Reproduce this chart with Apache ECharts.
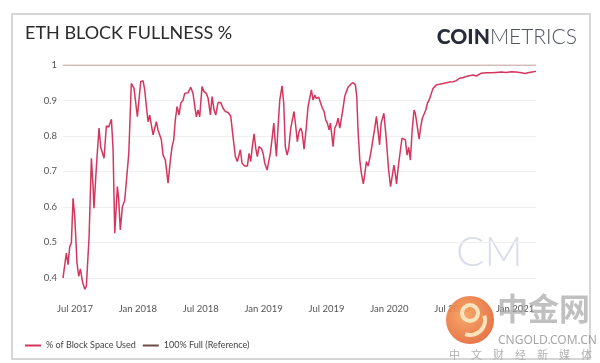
<!DOCTYPE html>
<html>
<head>
<meta charset="utf-8">
<script src="https://cdn.jsdelivr.net/npm/echarts@6/dist/echarts.min.js"></script>
<style>
html,body{margin:0;padding:0;background:#fff;}
#chart{width:600px;height:363px;}
</style>
</head>
<body>
<div id="chart"></div>
<script>
// Months since Jan 2017 (6 = Jul 2017, 48 = Jan 2021)
const months = [4.85,5.17,5.33,5.49,5.65,5.81,5.97,6.19,6.35,6.51,6.70,6.93,7.08,7.34,7.56,7.72,7.81,7.98,8.10,8.29,8.45,8.61,8.77,8.99,9.22,9.47,9.63,9.79,10.04,10.17,10.32,10.52,10.74,10.90,11.13,11.37,11.63,11.79,11.95,12.27,12.49,12.65,12.81,12.97,13.13,13.28,13.45,13.61,13.76,13.92,14.09,14.24,14.40,14.62,14.88,15.10,15.26,15.42,15.57,15.74,15.93,16.09,16.31,16.47,16.79,17.04,17.26,17.48,17.58,17.74,17.90,18.12,18.31,18.53,18.70,18.92,19.08,19.27,19.43,19.65,19.91,20.13,20.35,20.60,20.86,21.08,21.30,21.49,21.63,21.78,21.94,22.20,22.45,22.61,22.77,22.92,23.09,23.25,23.40,23.56,23.78,23.95,24.11,24.33,24.49,24.64,24.83,24.97,25.12,25.22,25.38,25.54,25.76,25.92,26.07,26.24,26.40,26.59,26.71,26.90,27.07,27.22,27.38,27.54,27.67,27.86,28.08,28.24,28.40,28.56,28.72,28.88,29.03,29.26,29.45,29.61,29.77,29.93,30.08,30.25,30.37,30.47,30.63,30.79,30.94,31.11,31.27,31.42,31.58,31.74,31.90,32.06,32.32,32.54,32.76,32.89,33.01,33.18,33.33,33.52,33.65,33.81,33.97,34.13,34.28,34.45,34.61,34.77,35.07,35.22,35.48,35.70,35.93,36.12,36.27,36.44,36.56,36.69,36.82,36.98,37.21,37.40,37.53,37.69,37.85,38.01,38.17,38.36,38.48,38.67,38.84,39.00,39.15,39.31,39.48,39.63,39.86,40.01,40.17,40.34,40.49,40.81,41.13,41.44,41.77,42.08,42.40,42.66,43.04,43.51,43.99,44.31,44.78,45.26,45.42,45.74,46.21,46.69,47.14,47.65,48.10,48.60,48.96,49.24,49.62,50.00];
const fullness = [0.399,0.470,0.437,0.488,0.498,0.624,0.573,0.441,0.404,0.425,0.390,0.368,0.376,0.516,0.737,0.657,0.596,0.685,0.742,0.822,0.768,0.772,0.737,0.828,0.826,0.847,0.761,0.526,0.657,0.620,0.535,0.601,0.618,0.620,0.751,0.948,0.934,0.930,0.854,0.953,0.956,0.930,0.883,0.840,0.859,0.831,0.803,0.798,0.840,0.817,0.817,0.789,0.746,0.732,0.667,0.732,0.770,0.789,0.845,0.883,0.859,0.892,0.901,0.920,0.922,0.937,0.920,0.873,0.854,0.873,0.854,0.939,0.925,0.920,0.906,0.859,0.911,0.873,0.859,0.894,0.894,0.878,0.869,0.866,0.856,0.798,0.742,0.728,0.732,0.761,0.723,0.715,0.715,0.751,0.728,0.770,0.806,0.765,0.742,0.770,0.765,0.751,0.723,0.704,0.709,0.751,0.798,0.836,0.779,0.742,0.826,0.901,0.941,0.892,0.770,0.746,0.765,0.822,0.817,0.869,0.826,0.784,0.812,0.822,0.812,0.763,0.826,0.883,0.906,0.930,0.901,0.915,0.906,0.909,0.906,0.878,0.869,0.845,0.836,0.817,0.836,0.812,0.770,0.822,0.831,0.850,0.822,0.822,0.878,0.911,0.925,0.937,0.946,0.950,0.944,0.911,0.817,0.732,0.695,0.665,0.690,0.728,0.715,0.737,0.761,0.794,0.822,0.855,0.775,0.836,0.864,0.794,0.704,0.657,0.685,0.718,0.695,0.665,0.704,0.742,0.794,0.798,0.789,0.746,0.768,0.732,0.812,0.873,0.864,0.826,0.791,0.826,0.850,0.854,0.873,0.892,0.906,0.920,0.934,0.932,0.944,0.946,0.948,0.950,0.952,0.953,0.956,0.962,0.965,0.969,0.972,0.969,0.977,0.978,0.974,0.978,0.979,0.980,0.979,0.981,0.980,0.978,0.976,0.978,0.980,0.982];
const referenceLevel = 1;
const xTickMonths = [6,12,18,24,30,36,42,48];
const xTickLabels = ['Jul 2017','Jan 2018','Jul 2018','Jan 2019','Jul 2019','Jan 2020','Jul 2020','Jan 2021'];
const yTickValues = [0.4,0.5,0.6,0.7,0.8,0.9,1];
const yTickLabels = ['0.4','0.5','0.6','0.7','0.8','0.9','1'];
const seriesNames = ['% of Block Space Used','100% Full (Reference)'];

const chart = echarts.init(document.getElementById('chart'), null, {renderer:'canvas'});
const xMin = months[0], xMax = months[months.length-1];
const labelFont = 'Lato, "Open Sans", sans-serif';

chart.setOption({
  animation:false,
  backgroundColor:'#ffffff',
  title:{
    text:'ETH BLOCK FULLNESS %',
    left:25, top:24, padding:0,
    textStyle:{fontFamily:labelFont, fontSize:18, fontWeight:'normal', color:'#2b2b2b'}
  },
  legend:{
    left:20, top:336, icon:'rect', itemWidth:16, itemHeight:2, itemGap:7,
    textStyle:{fontFamily:labelFont, fontSize:9, color:'#444'},
    data:[
      {name:seriesNames[0], itemStyle:{color:'#d4365f'}},
      {name:seriesNames[1], itemStyle:{color:'#6e4b47', opacity:1}}
    ]
  },
  grid:{left:63, right:64, top:65, bottom:71},
  xAxis:{
    type:'value', min:xMin, max:xMax,
    axisLine:{show:false}, axisTick:{show:false}, splitLine:{show:false},
    axisLabel:{
      customValues:xTickMonths, margin:12,
      fontFamily:labelFont, fontSize:9.5, color:'#555',
      formatter:function(v){ const i = xTickMonths.indexOf(Math.round(v)); return i>=0 ? xTickLabels[i] : ''; }
    }
  },
  yAxis:{
    type:'value', min:0.36, max:1,
    axisLine:{show:false},
    axisTick:{show:false, customValues:yTickValues},
    splitLine:{show:true, lineStyle:{color:'#efefef', width:1}},
    axisLabel:{
      customValues:yTickValues, margin:6,
      fontFamily:labelFont, fontSize:9.5, color:'#555',
      formatter:function(v){ let best=0; yTickValues.forEach((t,i)=>{ if(Math.abs(t-v)<Math.abs(yTickValues[best]-v)) best=i; }); return yTickLabels[best]; }
    }
  },
  series:[
    {
      name:seriesNames[1], type:'line', showSymbol:false, silent:true,
      data:[[xMin, referenceLevel],[xMax, referenceLevel]],
      itemStyle:{color:'#6e4b47'},
      lineStyle:{color:'#b68680', width:1}, z:1
    },
    {
      name:seriesNames[0], type:'line', showSymbol:false,
      data:months.map((m,i)=>[m, fullness[i]]),
      itemStyle:{color:'#d4365f'},
      lineStyle:{color:'#d4365f', width:1.5}, z:3
    }
  ],
  graphic:[
    {type:'rect', shape:{x:12, y:14, width:578, height:345}, style:{fill:'none', stroke:'#c9c9c9', lineWidth:1.5}, z:-1, silent:true},
    {type:'text', right:23, top:27, style:{
      text:'{a|COIN}{b|METRICS}',
      rich:{
        a:{fontFamily:labelFont, fontSize:21, fontWeight:900, fill:'#272b3a'},
        b:{fontFamily:labelFont, fontSize:21, fontWeight:300, fill:'#50545e'}
      }
    }},
    {type:'text', left:456, top:231, silent:true, style:{text:'CM', fontFamily:labelFont, fontSize:42, fontWeight:300, fill:'#dadde9'}},
    {type:'circle', shape:{cx:470, cy:320, r:24}, silent:true, z:10,
      style:{fill:new echarts.graphic.RadialGradient(0.4,0.4,0.7,[{offset:0,color:'rgba(246,160,90,0.9)'},{offset:1,color:'rgba(226,96,50,0.9)'}])}},
    {type:'circle', shape:{cx:470, cy:313, r:8}, silent:true, z:11, style:{fill:'none', stroke:'rgba(255,236,200,0.9)', lineWidth:4}},
    {type:'arc', shape:{cx:470, cy:320, r:15, startAngle:-0.3, endAngle:1.9}, silent:true, z:11, style:{fill:'none', stroke:'rgba(255,236,200,0.9)', lineWidth:4}},
    {type:'text', left:497, top:293, silent:true, z:10, style:{text:'中金网', fontFamily:'"Noto Sans CJK SC"', fontSize:31, fontWeight:'bold', fill:'rgba(165,165,165,0.7)'}},
    {type:'text', left:498, top:335, silent:true, z:10, style:{text:'CNGOLD.COM.CN', fontFamily:'"Noto Sans", sans-serif', fontSize:12, fill:'rgba(150,150,150,0.85)'}},
    {type:'text', left:449, top:349, silent:true, z:10, style:{text:'中　文　财　经　新　媒　体', fontFamily:'"Noto Sans CJK SC"', fontSize:11, fill:'rgba(165,165,165,0.85)'}}
  ]
});
</script>
</body>
</html>
